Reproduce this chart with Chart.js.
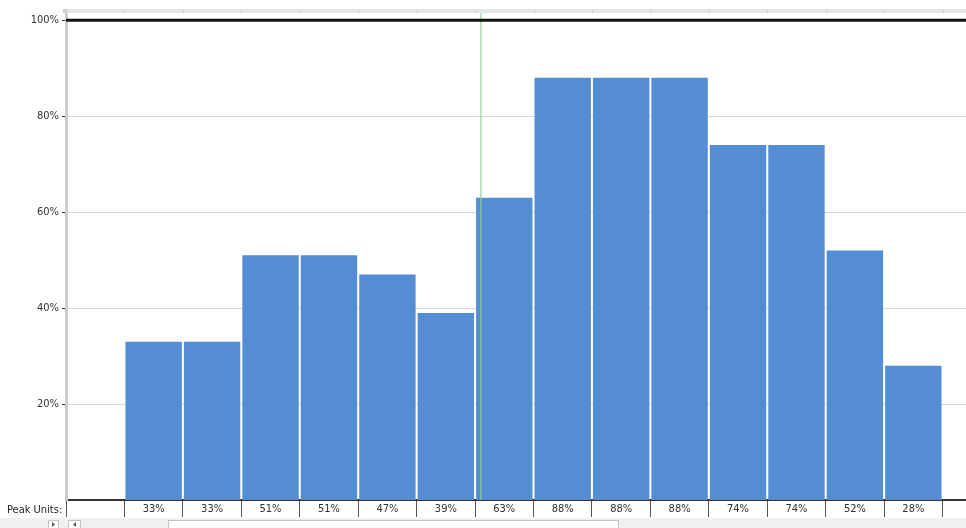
<!DOCTYPE html>
<html>
<head>
<meta charset="utf-8">
<script src="https://cdn.jsdelivr.net/npm/chart.js@4"></script>
<style>
  html, body { margin: 0; padding: 0; background: #fff; overflow: hidden; }
  #wrap { width: 966px; height: 528px; overflow: hidden; position: relative; }
</style>
</head>
<body>
<div id="wrap"><canvas id="chart" width="1001" height="528"></canvas></div>
<script>
// dados: primeira e ultima coluna vazias
const slots = ["", "1", "2", "3", "4", "5", "6", "7", "8", "9", "10", "11", "12", "13", "14", ""];
const peakUnits = [null, 33, 33, 51, 51, 47, 39, 63, 88, 88, 88, 74, 74, 52, 28, null];
const yTicks = [20, 40, 60, 80, 100];
const limite = 100;
const marcador = 6.6; // linha verde (posicao em colunas)

const FONTE = "'DejaVu Sans Condensed', 'Liberation Sans Narrow', sans-serif";

const extras = {
    id: "extras",
    afterDatasetsDraw(chart) {
        const { ctx, chartArea, scales } = chart;
        const x = scales.x, y = scales.y;
        ctx.save();
        // linha verde
        const gx = x.getPixelForValue(marcador);
        ctx.strokeStyle = "rgba(150,205,150,0.75)";
        ctx.lineWidth = 1.5;
        ctx.beginPath();
        ctx.moveTo(gx, chartArea.top);
        ctx.lineTo(gx, chartArea.bottom);
        ctx.stroke();
        // linha de 100%
        const ly = y.getPixelForValue(limite);
        ctx.strokeStyle = "#111";
        ctx.lineWidth = 3;
        ctx.beginPath();
        ctx.moveTo(chartArea.left, ly);
        ctx.lineTo(chartArea.right, ly);
        ctx.stroke();
        ctx.restore();
    },
    afterDraw(chart) {
        const { ctx, chartArea, scales } = chart;
        const x = scales.x;
        ctx.save();
        // faixa de cabecalho
        ctx.fillStyle = "#e4e4e4";
        ctx.fillRect(chartArea.left, 9, chartArea.right - chartArea.left, 4);
        ctx.strokeStyle = "#cfcfcf";
        ctx.lineWidth = 1;
        for (let i = 0; i <= slots.length; i++) {
            const px = Math.round(x.getPixelForValue(i - 0.5)) + 0.5;
            ctx.beginPath();
            ctx.moveTo(px, 9);
            ctx.lineTo(px, 13);
            ctx.stroke();
        }
        ctx.fillStyle = "#cdcdcd";
        ctx.fillRect(chartArea.left - 3, 9, 3, 4);
        // rotulo da tabela
        ctx.fillStyle = "#222";
        ctx.font = "11px " + FONTE;
        ctx.textBaseline = "middle";
        ctx.textAlign = "left";
        ctx.fillText("Peak Units:", 7, 510);
        // barra de rolagem
        ctx.fillStyle = "#f0f0f0";
        ctx.fillRect(0, 518, 1001, 10);
        ctx.fillStyle = "#fff";
        ctx.strokeStyle = "#c4c4c4";
        ctx.fillRect(168, 520, 450, 8);
        ctx.strokeRect(168.5, 520.5, 450, 8);
        ctx.fillRect(48, 520, 10, 8);
        ctx.strokeRect(48.5, 520.5, 10, 8);
        ctx.fillRect(68, 520, 12, 8);
        ctx.strokeRect(68.5, 520.5, 12, 8);
        ctx.fillStyle = "#555";
        ctx.beginPath();
        ctx.moveTo(52, 522); ctx.lineTo(55, 524.5); ctx.lineTo(52, 527); ctx.fill();
        ctx.beginPath();
        ctx.moveTo(76, 522); ctx.lineTo(73, 524.5); ctx.lineTo(76, 527); ctx.fill();
        ctx.restore();
    }
};

new Chart(document.getElementById("chart"), {
    type: "bar",
    data: {
        labels: slots,
        datasets: [{
            data: peakUnits,
            backgroundColor: "#548dd4",
            borderWidth: 0,
            barPercentage: 0.965,
            categoryPercentage: 1
        }]
    },
    options: {
        responsive: false,
        animation: false,
        layout: { padding: { top: 13, left: 0, right: 0, bottom: 0 } },
        plugins: { legend: { display: false }, tooltip: { enabled: false } },
        scales: {
            x: {
                offset: true,
                afterFit: a => { a.height = 28; },
                border: { display: true, color: "#333", width: 2 },
                grid: {
                    offset: true,
                    drawOnChartArea: false,
                    tickLength: 17,
                    color: "#555",
                    lineWidth: 1
                },
                ticks: {
                    padding: -14,
                    color: "#333",
                    font: { size: 11, family: FONTE },
                    maxRotation: 0,
                    autoSkip: false,
                    callback: (v, i) => peakUnits[i] == null ? "" : peakUnits[i] + "%"
                }
            },
            y: {
                min: 0,
                max: 101.5,
                afterFit: a => { a.width = 66; },
                afterBuildTicks: a => { a.ticks = yTicks.map(v => ({ value: v })); },
                border: { display: true, color: "#cdcdcd", width: 3 },
                grid: {
                    color: "#d9d9d9",
                    tickColor: "#333",
                    tickLength: 4,
                    lineWidth: 1
                },
                ticks: {
                    padding: 3,
                    color: "#333",
                    font: { size: 11, family: FONTE },
                    callback: v => v + "%"
                }
            }
        }
    },
    plugins: [extras]
});
</script>
</body>
</html>
